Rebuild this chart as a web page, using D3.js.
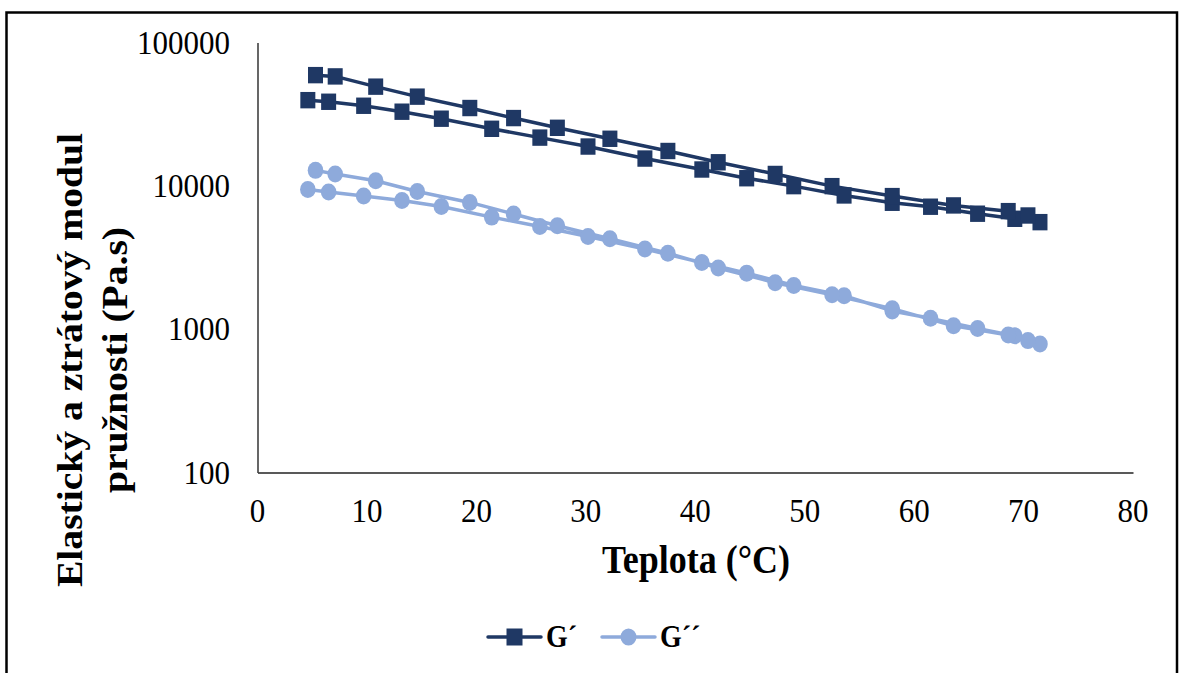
<!DOCTYPE html>
<html>
<head>
<meta charset="utf-8">
<script src="https://cdn.jsdelivr.net/npm/d3@7"></script>
<style>
  html, body { margin: 0; padding: 0; background: #fff; }
  svg { display: block; }
  text { font-family: "Liberation Serif", "Times New Roman", serif; fill: #000; }
</style>
</head>
<body>
<svg id="chart" width="1179" height="673"></svg>
<script>
// Temperature sweep: heating branch up to ~71 °C, then cooling branch back down
const temperature = [
  4.6, 6.5, 9.7, 13.2, 16.8, 21.4, 25.8, 30.2, 35.4, 40.6, 44.7, 49.0, 53.6, 58.0, 61.5, 65.8, 69.2, 71.5,
  70.4, 68.6, 63.6, 58.0, 52.5, 47.3, 42.1, 37.5, 32.2, 27.4, 23.4, 19.4, 14.6, 10.8, 7.1, 5.3
];
// Storage modulus G´
const gStorage = [
  39600, 38600, 36200, 32900, 29400, 25000, 21700, 18800, 15500, 13000, 11300, 9950, 8570, 7620, 7150, 6390, 5890, 5580,
  6210, 6660, 7300, 8480, 9950, 12100, 14600, 17500, 21300, 25400, 29700, 34900, 41900, 49200, 58000, 59200
];
// Loss modulus G´´
const gLoss = [
  9440, 9050, 8490, 7910, 7180, 6050, 5200, 4430, 3620, 2920, 2460, 2020, 1710, 1340, 1190, 1010, 898, 789,
  832, 912, 1055, 1390, 1740, 2110, 2670, 3390, 4270, 5270, 6360, 7660, 9140, 10860, 12090, 12820
];
const xTicks = [0, 10, 20, 30, 40, 50, 60, 70, 80];
const yTicks = [100, 1000, 10000, 100000];
const seriesNames = ["G´", "G´´"];
const seriesColors = ["#1F3864", "#8EAADB"];

// text in this figure is drawn slightly taller than wide
const TEXT_STRETCH = 1.1;
const stretch = (px, py) => `translate(${px},${py}) scale(1,${TEXT_STRETCH})`;

const svg = d3.select("#chart");

// outer frame
svg.append("rect")
  .attr("x", 6.5).attr("y", 12.5)
  .attr("width", 1170.5).attr("height", 700)
  .attr("fill", "none").attr("stroke", "#000").attr("stroke-width", 2.5);

const x = d3.scaleLinear().domain([0, 80]).range([257.5, 1133]);
const y = d3.scaleLog().domain([100, 100000]).range([472.5, 42.5]);

// axis lines (no tick marks)
const xAxis = svg.append("g").attr("transform", `translate(0,${y(100)})`)
  .call(d3.axisBottom(x).tickValues(xTicks).tickSize(0).tickFormat(""));
xAxis.select(".domain").attr("stroke", "#595959").attr("stroke-width", 2.2);

const yAxis = svg.append("g").attr("transform", `translate(${x(0)},0)`)
  .call(d3.axisLeft(y).tickValues(yTicks).tickSize(0).tickFormat(""));
yAxis.select(".domain").attr("stroke", "#404040").attr("stroke-width", 1.6);

// tick labels
svg.append("g").selectAll("text").data(xTicks).join("text")
  .attr("transform", d => stretch(x(d), 522))
  .attr("text-anchor", "middle").attr("font-size", 31)
  .text(d => d3.format("d")(d));

svg.append("g").selectAll("text").data(yTicks).join("text")
  .attr("transform", d => stretch(230, y(d) + 11))
  .attr("text-anchor", "end").attr("font-size", 31)
  .text(d => d3.format("d")(d));

// axis titles
svg.append("text")
  .attr("transform", stretch(696, 573))
  .attr("text-anchor", "middle")
  .attr("font-size", 36).attr("font-weight", "bold")
  .text("Teplota (°C)");

const yTitle = svg.append("text")
  .attr("transform", `translate(0,360) scale(1,${TEXT_STRETCH}) rotate(-90)`)
  .attr("text-anchor", "middle")
  .attr("font-size", 36).attr("font-weight", "bold");
yTitle.append("tspan").attr("x", 0).attr("y", 82).text("Elastický a ztrátový modul");
yTitle.append("tspan").attr("x", 0).attr("y", 127).text("pružnosti (Pa.s)");

const points = (vals) => temperature.map((t, i) => [t, vals[i]]);
const line = d3.line().x(d => x(d[0])).y(d => y(d[1]));

// G´ : squares
const s1 = points(gStorage);
svg.append("path").datum(s1)
  .attr("d", line).attr("fill", "none")
  .attr("stroke", seriesColors[0]).attr("stroke-width", 3.5).attr("stroke-linejoin", "round");
svg.append("g").selectAll("rect").data(s1).join("rect")
  .attr("x", d => x(d[0]) - 7.5).attr("y", d => y(d[1]) - 8.2)
  .attr("width", 15).attr("height", 16.4)
  .attr("fill", seriesColors[0]);

// G´´ : circles
const s2 = points(gLoss);
svg.append("path").datum(s2)
  .attr("d", line).attr("fill", "none")
  .attr("stroke", seriesColors[1]).attr("stroke-width", 3.5).attr("stroke-linejoin", "round");
svg.append("g").selectAll("ellipse").data(s2).join("ellipse")
  .attr("cx", d => x(d[0])).attr("cy", d => y(d[1]))
  .attr("rx", 7.8).attr("ry", 8.5)
  .attr("fill", seriesColors[1]);

// legend
const legend = svg.append("g").attr("transform", "translate(0,637)");
const items = [
  { name: seriesNames[0], color: seriesColors[0], x0: 488, shape: "square" },
  { name: seriesNames[1], color: seriesColors[1], x0: 602, shape: "circle" }
];
items.forEach(it => {
  legend.append("line").attr("x1", it.x0).attr("x2", it.x0 + 53)
    .attr("y1", 0).attr("y2", 0)
    .attr("stroke", it.color).attr("stroke-width", 3.5).attr("stroke-linecap", "round");
  if (it.shape === "square") {
    legend.append("rect").attr("x", it.x0 + 26.5 - 8).attr("y", -8.5)
      .attr("width", 16).attr("height", 17).attr("fill", it.color);
  } else {
    legend.append("ellipse").attr("cx", it.x0 + 26.5).attr("cy", 0).attr("rx", 8).attr("ry", 8.6).attr("fill", it.color);
  }
  legend.append("text").attr("transform", stretch(it.x0 + 58, 10))
    .attr("font-size", 28).attr("font-weight", "bold").text(it.name);
});
</script>
</body>
</html>
